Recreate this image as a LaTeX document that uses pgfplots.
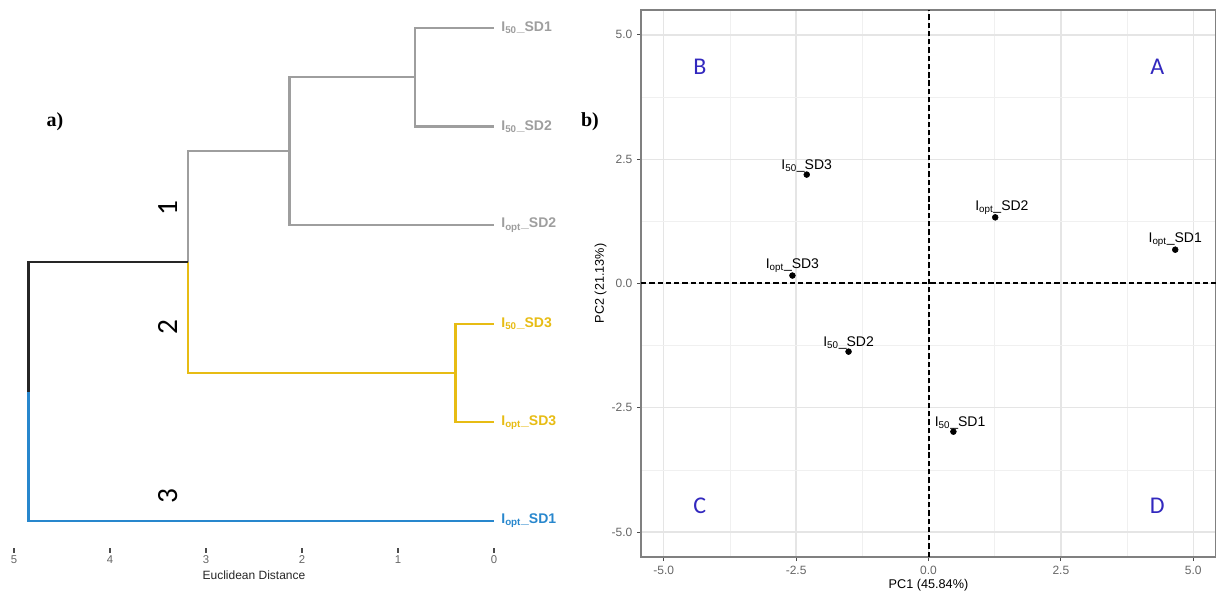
\documentclass[border=0pt]{standalone}
\usepackage{pgfplots}
\pgfplotsset{compat=1.18}
\usepackage{fontspec}
\setmainfont{Liberation Sans}
\newfontfamily\serifb{Liberation Serif}
\newfontfamily\carl{Carlito}
\definecolor{dgray}{RGB}{158,158,158}
\definecolor{dgold}{RGB}{231,188,20}
\definecolor{dblue}{RGB}{40,135,205}
\definecolor{qblue}{RGB}{50,40,190}
\begin{document}
\begin{tikzpicture}[x=1pt,y=1pt]
% ---------------- a) dendrogram
\begin{axis}[at={(10.5pt,33pt)}, anchor=south west, scale only axis,
  width=360pt, height=403.5pt,
  xmin=0, xmax=5, x dir=reverse, ymin=0.726, ymax=6.18, clip=false,
  axis line style={draw=none}, ytick=\empty, xtick={0,1,2,3,4,5},
  xtick pos=bottom, tick align=outside,
  major tick length=3.5pt, tick style={black!70, line width=1.2pt},
  xticklabel style={font=\fontsize{8.5}{9}\selectfont, text=black!60, yshift=1pt,
    /pgf/number format/assume math mode=true},
  xlabel={Euclidean Distance},
  xlabel style={font=\fontsize{9}{10}\selectfont, text=black!85, yshift=2pt},
  every axis plot/.append style={line width=1.7pt}]
\addplot[dgray] coordinates {(0,6) (0.82,6) (0.82,5) (0,5)};
\addplot[dgray] coordinates {(0.82,5.5) (2.13,5.5) (2.13,4) (0,4)};
\addplot[dgray] coordinates {(2.13,4.75) (3.19,4.75) (3.19,3.625)};
\addplot[dgold] coordinates {(0,3) (0.40,3) (0.40,2) (0,2)};
\addplot[dgold] coordinates {(0.40,2.5) (3.19,2.5) (3.19,3.625)};
\addplot[black!85] coordinates {(3.19,3.625) (4.85,3.625) (4.85,2.3125)};
\addplot[dblue] coordinates {(4.85,2.3125) (4.85,1) (0,1)};
\begin{scope}[every node/.style={anchor=west, xshift=2pt, font=\bfseries\fontsize{10.5}{11}\selectfont}]
\node[text=dgray] at (axis cs:0,6) {I\textsubscript{50}\_SD1};
\node[text=dgray] at (axis cs:0,5) {I\textsubscript{50}\_SD2};
\node[text=dgray] at (axis cs:0,4) {I\textsubscript{opt}\_SD2};
\node[text=dgold] at (axis cs:0,3) {I\textsubscript{50}\_SD3};
\node[text=dgold] at (axis cs:0,2) {I\textsubscript{opt}\_SD3};
\node[text=dblue] at (axis cs:0,1) {I\textsubscript{opt}\_SD1};
\end{scope}
\begin{scope}[every node/.style={rotate=90, font=\carl\fontsize{22}{24}\selectfont}]
\node at (axis cs:3.40,4.17) {1};
\node at (axis cs:3.40,2.97) {2};
\node at (axis cs:3.40,1.25) {3};
\end{scope}
\end{axis}
% ---------------- b) PCA
\begin{axis}[at={(480.75pt,26.25pt)}, anchor=south west, scale only axis,
  width=431.25pt, height=410.25pt,
  xmin=-5.43, xmax=5.43, ymin=-5.5, ymax=5.5, clip=false,
  xtick={-5,-2.5,0,2.5,5}, ytick={-5,-2.5,0,2.5,5},
  minor xtick={-3.75,-1.25,1.25,3.75}, minor ytick={-3.75,-1.25,1.25,3.75},
  grid=both, major grid style={black!10, line width=1pt},
  minor grid style={black!6, line width=0.6pt},
  axis line style={black!50, line width=0.9pt},
  tick align=outside, xtick pos=bottom, ytick pos=left,
  major tick length=3pt, minor tick length=0pt,
  tick style={black!70, line width=0.9pt},
  scaled ticks=false,
  xticklabel style={font=\fontsize{9}{10}\selectfont, text=black!60,
    /pgf/number format/.cd, fixed, fixed zerofill, precision=1, assume math mode=true},
  yticklabel style={font=\fontsize{9}{10}\selectfont, text=black!60,
    /pgf/number format/.cd, fixed, fixed zerofill, precision=1, assume math mode=true},
  xlabel={PC1 (45.84\%)}, ylabel={PC2 (21.13\%)},
  xlabel style={yshift=3pt}, ylabel style={yshift=-3pt},
  label style={font=\fontsize{9.5}{10}\selectfont, text=black}]
\addplot[black, line width=1.5pt, dash pattern=on 4pt off 2.2pt] coordinates {(0,-5.5) (0,5.5)};
\addplot[black, line width=1.5pt, dash pattern=on 4pt off 2.2pt] coordinates {(-5.43,0) (5.43,0)};
\addplot[only marks, mark=*, mark size=2.2pt, black,
  point meta=explicit symbolic, nodes near coords,
  nodes near coords style={anchor=south, yshift=-1.5pt, text=black,
    font=\fontsize{10.5}{11}\selectfont}]
  coordinates {
  (-2.30,2.19) [I\textsubscript{50}\_SD3]
  (4.66,0.68) [I\textsubscript{opt}\_SD1]
  (-2.57,0.16) [I\textsubscript{opt}\_SD3]
  (-1.51,-1.37) [I\textsubscript{50}\_SD2]
  };
\addplot[only marks, mark=*, mark size=2.2pt, black,
  point meta=explicit symbolic, nodes near coords,
  nodes near coords style={anchor=south, yshift=-1.5pt, xshift=5pt, text=black,
    font=\fontsize{10.5}{11}\selectfont}]
  coordinates {
  (1.26,1.33) [I\textsubscript{opt}\_SD2]
  (0.47,-2.98) [I\textsubscript{50}\_SD1]
  };
\begin{scope}[every node/.style={text=qblue, font=\carl\fontsize{18}{20}\selectfont}]
\node at (axis cs:-4.32,4.35) {B};
\node at (axis cs:4.32,4.35) {A};
\node at (axis cs:-4.32,-4.47) {C};
\node at (axis cs:4.32,-4.47) {D};
\end{scope}
\end{axis}
\node[font=\serifb\bfseries\fontsize{15}{17}\selectfont] at (41.25,352.5) {a)};
\node[font=\serifb\bfseries\fontsize{15}{17}\selectfont] at (442.5,352.5) {b)};
\pgfresetboundingbox
\path (0,0) rectangle (912,444);
\end{tikzpicture}
\end{document}
